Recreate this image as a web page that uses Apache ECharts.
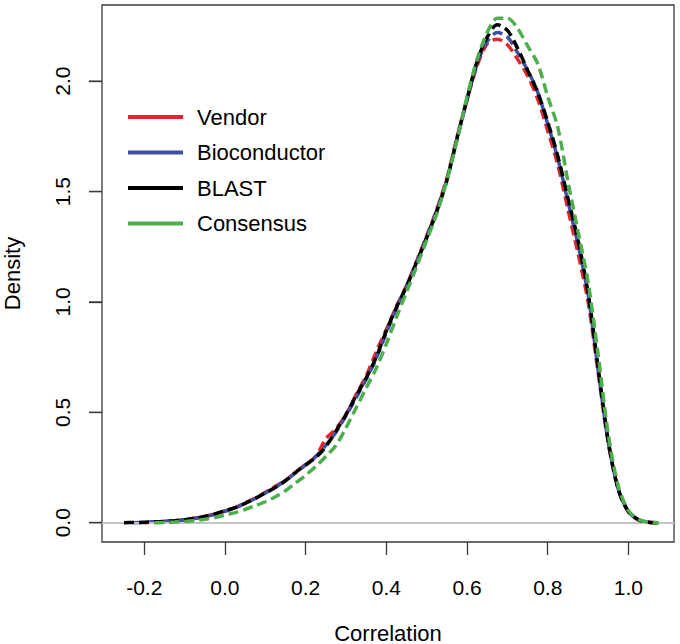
<!DOCTYPE html>
<html>
<head>
<meta charset="utf-8">
<script src="https://cdn.jsdelivr.net/npm/echarts@6/dist/echarts.min.js"></script>
<style>
html,body{margin:0;padding:0;background:#fff;}
#chart{width:680px;height:644px;}
</style>
</head>
<body>
<div id="chart"></div>
<script>
// Shared x grid (correlation values)
const xs = [
  -0.25,-0.225,-0.2,-0.175,-0.15,-0.125,-0.1,-0.075,-0.05,-0.025,
  0,0.025,0.05,0.075,0.1,0.125,0.15,0.175,0.2,0.225,
  0.25,0.275,0.3,0.325,0.35,0.375,0.4,0.425,0.45,0.475,
  0.5,0.525,0.55,0.575,0.6,0.625,0.65,0.675,0.7,0.725,
  0.75,0.775,0.8,0.825,0.85,0.875,0.9,0.925,0.95,0.975,
  1.0,1.025,1.05,1.075
];
const vendor = [
  null,null,0.000,0.003,0.006,0.009,0.014,0.021,0.029,0.040,
  0.053,0.068,0.090,0.112,0.138,0.165,0.192,0.228,0.265,0.300,
  0.380,0.425,0.490,0.580,0.665,0.775,0.875,0.980,1.075,1.185,
  1.300,1.420,1.560,1.745,1.915,2.070,2.170,2.190,2.165,2.100,
  2.025,1.920,1.775,1.620,1.420,1.220,1.000,0.680,0.360,0.150,
  0.050,0.013,0.002,0.000
];
const bioconductor = [
  null,0.000,0.002,0.004,0.006,0.009,0.013,0.019,0.027,0.038,
  0.052,0.067,0.087,0.110,0.134,0.160,0.192,0.226,0.262,0.300,
  0.350,0.410,0.485,0.565,0.650,0.745,0.860,0.970,1.070,1.180,
  1.295,1.415,1.555,1.735,1.915,2.080,2.180,2.220,2.200,2.130,
  2.050,1.950,1.805,1.650,1.455,1.260,1.035,0.690,0.365,0.150,
  0.050,0.013,0.002,0.000
];
const blast = [
  0.000,0.001,0.002,0.004,0.006,0.009,0.013,0.020,0.028,0.040,
  0.055,0.068,0.088,0.110,0.135,0.160,0.190,0.228,0.262,0.295,
  0.345,0.415,0.490,0.575,0.655,0.750,0.870,0.975,1.070,1.180,
  1.290,1.410,1.550,1.740,1.920,2.090,2.200,2.255,2.230,2.150,
  2.050,1.950,1.815,1.660,1.470,1.280,1.040,0.700,0.370,0.150,
  0.050,0.013,0.002,0.000
];
const consensus = [
  null,null,null,0.000,0.001,0.003,0.006,0.010,0.016,0.024,
  0.034,0.046,0.060,0.077,0.095,0.118,0.145,0.180,0.215,0.255,
  0.300,0.350,0.430,0.520,0.610,0.700,0.810,0.930,1.045,1.160,
  1.280,1.400,1.550,1.730,1.930,2.100,2.220,2.285,2.285,2.240,
  2.160,2.080,1.930,1.790,1.545,1.320,1.090,0.760,0.400,0.165,
  0.055,0.015,0.003,0.000
];
const seriesNames = ['Vendor','Bioconductor','BLAST','Consensus'];
const seriesColors = ['#e2262b','#3f50a2','#000000','#4cae4c'];
const xTicks = [-0.2,0.0,0.2,0.4,0.6,0.8,1.0];
const yTicks = [0.0,0.5,1.0,1.5,2.0];

const allValues = [vendor, bioconductor, blast, consensus];
const FONT = '"Liberation Sans", Arial, sans-serif';
const X_MIN = -0.3047, X_MAX = 1.1129, Y_MIN = -0.0873, Y_MAX = 2.345;
const axisColor = '#3a3a3a';

const chart = echarts.init(document.getElementById('chart'), null, {renderer:'svg'});
const series = allValues.map((vals, i) => ({
  name: seriesNames[i],
  type: 'line',
  data: xs.map((x, j) => [x, vals[j]]),
  showSymbol: false,
  smooth: 0.3,
  connectNulls: false,
  lineStyle: {color: seriesColors[i], width: 3.5, type: [10, 5]},
  itemStyle: {color: seriesColors[i]},
  z: 3 + i
}));
series.push({
  type: 'line',
  data: [],
  z: 1,
  markLine: {
    silent: true,
    symbol: ['none','none'],
    label: {show: false},
    lineStyle: {color: '#c4c4c4', width: 2, type: 'solid'},
    data: [{yAxis: 0}]
  }
});

chart.setOption({
  animation: false,
  backgroundColor: '#fff',
  grid: {left: 102, top: 5, width: 572, height: 537, containLabel: false, outerBoundsMode: 'none', show: true, borderColor: axisColor, borderWidth: 1.3},
  legend: {
    orient: 'vertical',
    left: 123,
    top: 101,
    itemWidth: 55,
    itemHeight: 4,
    itemGap: 13.5,
    icon: 'rect',
    data: seriesNames,
    textStyle: {fontFamily: FONT, fontSize: 22, color: '#000', lineHeight: 22, padding: [0,0,0,9]}
  },
  xAxis: {
    type: 'value',
    min: X_MIN,
    max: X_MAX,
    splitLine: {show: false},
    axisLine: {show: false, onZero: false},
    axisTick: {show: true, length: 13, inside: false, customValues: xTicks, lineStyle: {color: axisColor, width: 1.3}},
    axisLabel: {customValues: xTicks, formatter: v => v.toFixed(1), fontFamily: FONT, fontSize: 21, color: '#000', margin: 35},
    name: 'Correlation',
    nameLocation: 'middle',
    nameGap: 80,
    nameTextStyle: {fontFamily: FONT, fontSize: 22, color: '#000'}
  },
  yAxis: {
    type: 'value',
    min: Y_MIN,
    max: Y_MAX,
    splitLine: {show: false},
    axisLine: {show: false, onZero: false},
    axisTick: {show: true, length: 13, inside: false, customValues: yTicks, lineStyle: {color: axisColor, width: 1.3}},
    axisLabel: {customValues: yTicks, formatter: v => v.toFixed(1), fontFamily: FONT, fontSize: 21, color: '#000', margin: 29, rotate: 90},
    name: 'Density',
    nameLocation: 'middle',
    nameGap: 79,
    nameMoveOverlap: false,
    nameRotate: 90,
    nameTextStyle: {fontFamily: FONT, fontSize: 22, color: '#000'}
  },
  series: series
});
// y tick marks placed through the axis scale, added at the root of the scene
try {
  const zr = chart.getZr();
  yTicks.forEach(v => {
    const p = chart.convertToPixel({gridIndex: 0}, [X_MIN, v]);
    zr.add(new echarts.graphic.Line({
      shape: {x1: p[0] - 13, y1: p[1], x2: p[0], y2: p[1]},
      style: {stroke: axisColor, lineWidth: 1.3},
      z: 1000, zlevel: 10, silent: true
    }));
  });
} catch (e) {}
</script>
</body>
</html>
